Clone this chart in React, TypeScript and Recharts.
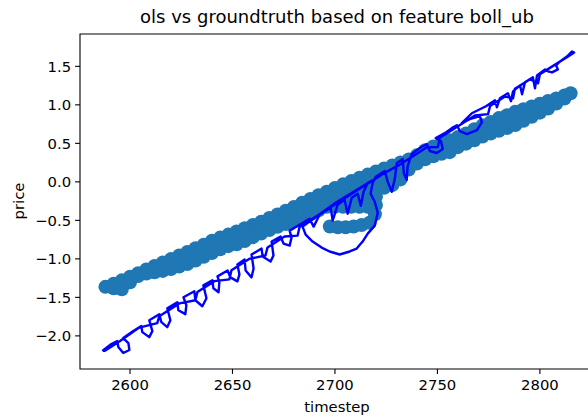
import React from "react";
import { ComposedChart, Scatter, XAxis, YAxis, ReferenceArea } from "recharts";

// tick values
const xTicks = [2600, 2650, 2700, 2750, 2800];
const yTicks = [-2.0, -1.5, -1.0, -0.5, 0.0, 0.5, 1.0, 1.5];

// groundtruth points (timestep, price)
const groundtruth: [number, number][] = [
	[2588, -1.363],
	[2592, -1.323], [2592, -1.382],
	[2596, -1.279], [2596, -1.395],
	[2600, -1.233], [2600, -1.305],
	[2604, -1.186], [2604, -1.222],
	[2608, -1.137], [2608, -1.189],
	[2612, -1.092], [2612, -1.173],
	[2616, -1.047], [2616, -1.156],
	[2620, -1.003], [2620, -1.132],
	[2624, -0.957], [2624, -1.028], [2624, -1.099],
	[2628, -0.91], [2628, -0.989], [2628, -1.067],
	[2632, -0.863], [2632, -0.943], [2632, -1.022],
	[2636, -0.815], [2636, -0.894], [2636, -0.972],
	[2640, -0.765], [2640, -0.845], [2640, -0.924],
	[2644, -0.724], [2644, -0.8], [2644, -0.876],
	[2648, -0.685], [2648, -0.76], [2648, -0.835],
	[2652, -0.643], [2652, -0.727], [2652, -0.81],
	[2656, -0.602], [2656, -0.686], [2656, -0.769],
	[2660, -0.561], [2660, -0.64], [2660, -0.718],
	[2664, -0.517], [2664, -0.595], [2664, -0.672],
	[2668, -0.469], [2668, -0.547], [2668, -0.625],
	[2672, -0.424], [2672, -0.504], [2672, -0.584],
	[2676, -0.375], [2676, -0.461], [2676, -0.547],
	[2680, -0.326], [2680, -0.42], [2680, -0.513],
	[2684, -0.271], [2684, -0.373], [2684, -0.474],
	[2688, -0.221], [2688, -0.322], [2688, -0.422],
	[2692, -0.173], [2692, -0.272], [2692, -0.37],
	[2696, -0.127], [2696, -0.225], [2696, -0.323],
	[2700, -0.08], [2700, -0.202], [2700, -0.323],
	[2704, -0.032], [2704, -0.178], [2704, -0.323],
	[2708, 0.01], [2708, -0.101], [2708, -0.212], [2708, -0.323],
	[2712, 0.053], [2712, -0.072], [2712, -0.198], [2712, -0.323],
	[2716, 0.094], [2716, -0.044], [2716, -0.183], [2716, -0.323],
	[2720, 0.136], [2720, 0.026], [2720, -0.084], [2720, -0.194],
	[2724, 0.174], [2724, 0.049], [2724, -0.078],
	[2728, 0.213], [2728, 0.085], [2728, -0.043],
	[2732, 0.252], [2732, 0.142], [2732, 0.032],
	[2736, 0.291], [2736, 0.161],
	[2740, 0.344], [2740, 0.239],
	[2744, 0.412], [2744, 0.292],
	[2748, 0.459], [2748, 0.332],
	[2752, 0.5], [2752, 0.366],
	[2756, 0.541], [2756, 0.464], [2756, 0.386],
	[2760, 0.584], [2760, 0.451],
	[2764, 0.628], [2764, 0.496],
	[2768, 0.683], [2768, 0.612], [2768, 0.541],
	[2772, 0.734], [2772, 0.662], [2772, 0.59],
	[2776, 0.778], [2776, 0.703], [2776, 0.627],
	[2780, 0.828], [2780, 0.746], [2780, 0.664],
	[2784, 0.864], [2784, 0.782], [2784, 0.7],
	[2788, 0.91], [2788, 0.824], [2788, 0.738],
	[2792, 0.944], [2792, 0.869], [2792, 0.793],
	[2796, 0.979], [2796, 0.846],
	[2800, 1.014], [2800, 0.899],
	[2804, 1.05], [2804, 0.953],
	[2808, 1.084], [2808, 1.016],
	[2812, 1.121], [2812, 1.083],
	[2815, 1.15],
	// lower lobe
	[2697.5, -0.58], [2701.4, -0.59], [2705.2, -0.59], [2709.1, -0.58],
	[2713, -0.56], [2716.9, -0.53], [2719.5, -0.42], [2720, -0.3],
];

// ols path in drawing order (goes up, then comes back down)
const olsPath: [number, number][] = [
	[2586.5, -2.196], [2590.9, -2.106], [2593.8, -2.067], [2594.3, -2.145],
	[2596.7, -2.222], [2599.7, -2.183], [2599.2, -2.093], [2596.7, -2.028],
	[2601.6, -1.938], [2605.5, -1.873], [2606.0, -1.951], [2609.4, -2.016],
	[2610.9, -1.938], [2609.4, -1.796], [2614.3, -1.718], [2615.3, -1.822],
	[2618.2, -1.886], [2619.7, -1.796], [2618.2, -1.641], [2623.1, -1.563],
	[2623.6, -1.667], [2627.0, -1.718], [2627.5, -1.602], [2626.1, -1.499],
	[2631.4, -1.421], [2631.9, -1.537], [2635.3, -1.615], [2637.3, -1.512],
	[2635.8, -1.344], [2640.2, -1.279], [2640.7, -1.382], [2643.2, -1.434],
	[2643.6, -1.305], [2642.7, -1.227], [2647.6, -1.15], [2649.0, -1.24],
	[2652.4, -1.292], [2653.4, -1.202], [2652.4, -1.072], [2655.9, -1.008],
	[2656.4, -1.15], [2659.3, -1.24], [2660.3, -1.124], [2659.3, -0.943],
	[2664.2, -0.866], [2664.7, -0.969], [2668.6, -1.034], [2670.0, -0.956],
	[2669.1, -0.775], [2673.5, -0.711], [2674.9, -0.801], [2677.9, -0.827],
	[2678.8, -0.724], [2677.9, -0.633], [2682.7, -0.556], [2687.6, -0.478],
	[2689.6, -0.581], [2692.5, -0.426], [2697.9, -0.336], [2698.9, -0.504],
	[2701.3, -0.297], [2704.7, -0.233], [2706.2, -0.413], [2708.2, -0.207],
	[2711.1, -0.155], [2712.6, -0.31], [2714.0, -0.129], [2716.0, -0.013],
	[2717.9, 0.013], [2700.3, -0.271], [2684.2, -0.581], [2685.7, -0.685],
	[2689.1, -0.775], [2693.5, -0.853], [2697.4, -0.904], [2702.3, -0.943],
	[2707.2, -0.904], [2710.6, -0.866], [2713.5, -0.775], [2716.0, -0.672],
	[2719.4, -0.568], [2720.9, -0.401], [2719.4, -0.258], [2717.4, -0.155],
	[2718.4, -0.013], [2719.9, 0.065], [2724.3, 0.142], [2725.8, 0.0],
	[2727.7, -0.129], [2729.2, 0.039], [2730.2, 0.245], [2733.1, 0.297],
	[2733.6, 0.116], [2735.0, 0.026], [2735.5, 0.207], [2737.5, 0.362],
	[2741.4, 0.439], [2744.8, 0.491], [2746.3, 0.401], [2749.7, 0.375],
	[2752.6, 0.426], [2751.7, 0.53], [2749.2, 0.568], [2753.6, 0.633],
	[2757.0, 0.698], [2759.5, 0.736], [2761.0, 0.659], [2764.4, 0.62],
	[2769.3, 0.672], [2771.7, 0.775], [2770.7, 0.853], [2765.8, 0.814],
	[2761.9, 0.762], [2766.8, 0.891], [2773.7, 0.982], [2778.1, 1.059],
	[2779.0, 0.969], [2780.5, 1.085], [2784.4, 1.15], [2785.9, 1.047],
	[2786.9, 1.176], [2790.3, 1.253], [2791.3, 1.137], [2792.7, 1.292],
	[2796.6, 1.357], [2797.6, 1.214], [2798.6, 1.382], [2802.5, 1.46],
	[2804.0, 1.434], [2805.9, 1.421], [2808.8, 1.46], [2807.9, 1.512],
	[2809.8, 1.563], [2813.2, 1.628], [2815.7, 1.693], [2816.7, 1.68],
	// way back down
	[2814.7, 1.645], [2804.9, 1.48], [2800.0, 1.398], [2799.1, 1.279],
	[2795.2, 1.333], [2787.8, 1.209], [2786.9, 1.085], [2783.0, 1.109],
	[2775.7, 0.985], [2774.7, 0.879], [2768.3, 0.861], [2758.5, 0.696],
	[2751.2, 0.572], [2750.2, 0.452], [2744.8, 0.448], [2737.5, 0.324],
	[2731.7, 0.224], [2724.3, 0.117], [2719.4, 0.034], [2712.0, -0.09],
	[2702.3, -0.255], [2692.5, -0.421], [2682.7, -0.586], [2681.8, -0.698],
	[2675.4, -0.71], [2667.1, -0.851], [2666.1, -0.956], [2658.3, -0.999],
	[2649.5, -1.148], [2648.5, -1.266], [2641.2, -1.289], [2632.9, -1.43],
	[2631.9, -1.537], [2624.1, -1.578], [2614.3, -1.744], [2613.3, -1.835],
	[2604.5, -1.892], [2594.8, -2.074], [2587.4, -2.198],
];

const X_DOMAIN: [number, number] = [2575.6, 2826.4];
const Y_DOMAIN: [number, number] = [-2.43, 1.92];

const scatterData = groundtruth.map(([x, y]) => ({ x, y }));
const lineData = olsPath.map(([x, y]) => ({ x, y }));

const FONT = "'DejaVu Sans', sans-serif";

const fmtY = (v: number) => v.toFixed(1).replace("-", "\u2212");

const renderDot = (props: any) => (
	<circle cx={props.cx} cy={props.cy} r={7} fill="#1f77b4" stroke="none" />
);
const renderNothing = () => <g />;

export default function App() {
	return (
		<div style={{ position: "absolute", left: 0, top: 0, width: 588, height: 420, overflow: "hidden", background: "#fff", fontFamily: FONT }}>
			<div style={{ position: "absolute", left: 0, width: 674, top: 6, textAlign: "center", fontSize: 18, color: "#000", whiteSpace: "nowrap" }}>
				ols vs groundtruth based on feature boll_ub
			</div>
			<div style={{ position: "absolute", left: 18, top: 201, transform: "translate(-50%, -50%) rotate(-90deg)", fontSize: 14.8, color: "#000" }}>
				price
			</div>
			<div style={{ position: "absolute", left: 0, width: 674, top: 398, textAlign: "center", fontSize: 14.8, color: "#000" }}>
				timestep
			</div>
			<ComposedChart width={620} height={420} margin={{ top: 34, right: 26, left: 0, bottom: 11 }}>
				<XAxis
					type="number"
					dataKey="x"
					domain={X_DOMAIN}
					allowDataOverflow
					ticks={xTicks}
					axisLine={false}
					tickLine={{ stroke: "#000", strokeWidth: 1.1 }}
					tickSize={4.9}
					tickMargin={6}
					height={40}
					tick={{ fill: "#000", fontSize: 14.8, fontFamily: FONT }}
				/>
				<YAxis
					type="number"
					dataKey="y"
					domain={Y_DOMAIN}
					allowDataOverflow
					ticks={yTicks}
					tickFormatter={fmtY}
					axisLine={false}
					tickLine={{ stroke: "#000", strokeWidth: 1.1 }}
					tickSize={4.9}
					tickMargin={4}
					width={80}
					tick={{ fill: "#000", fontSize: 14.8, fontFamily: FONT }}
				/>
				<Scatter data={scatterData} shape={renderDot} fill="#1f77b4" stroke="none" isAnimationActive={false} />
				<Scatter
					data={lineData}
					shape={renderNothing}
					fill="#0000ff"
					line={{ stroke: "#0000ff", strokeWidth: 2.4, strokeLinejoin: "round", fill: "none" }}
					lineType="joint"
					isAnimationActive={false}
				/>
				<ReferenceArea x1={X_DOMAIN[0]} x2={X_DOMAIN[1]} y1={Y_DOMAIN[0]} y2={Y_DOMAIN[1]} fill="none" stroke="#000" strokeWidth={1.1} />
			</ComposedChart>
		</div>
	);
}
